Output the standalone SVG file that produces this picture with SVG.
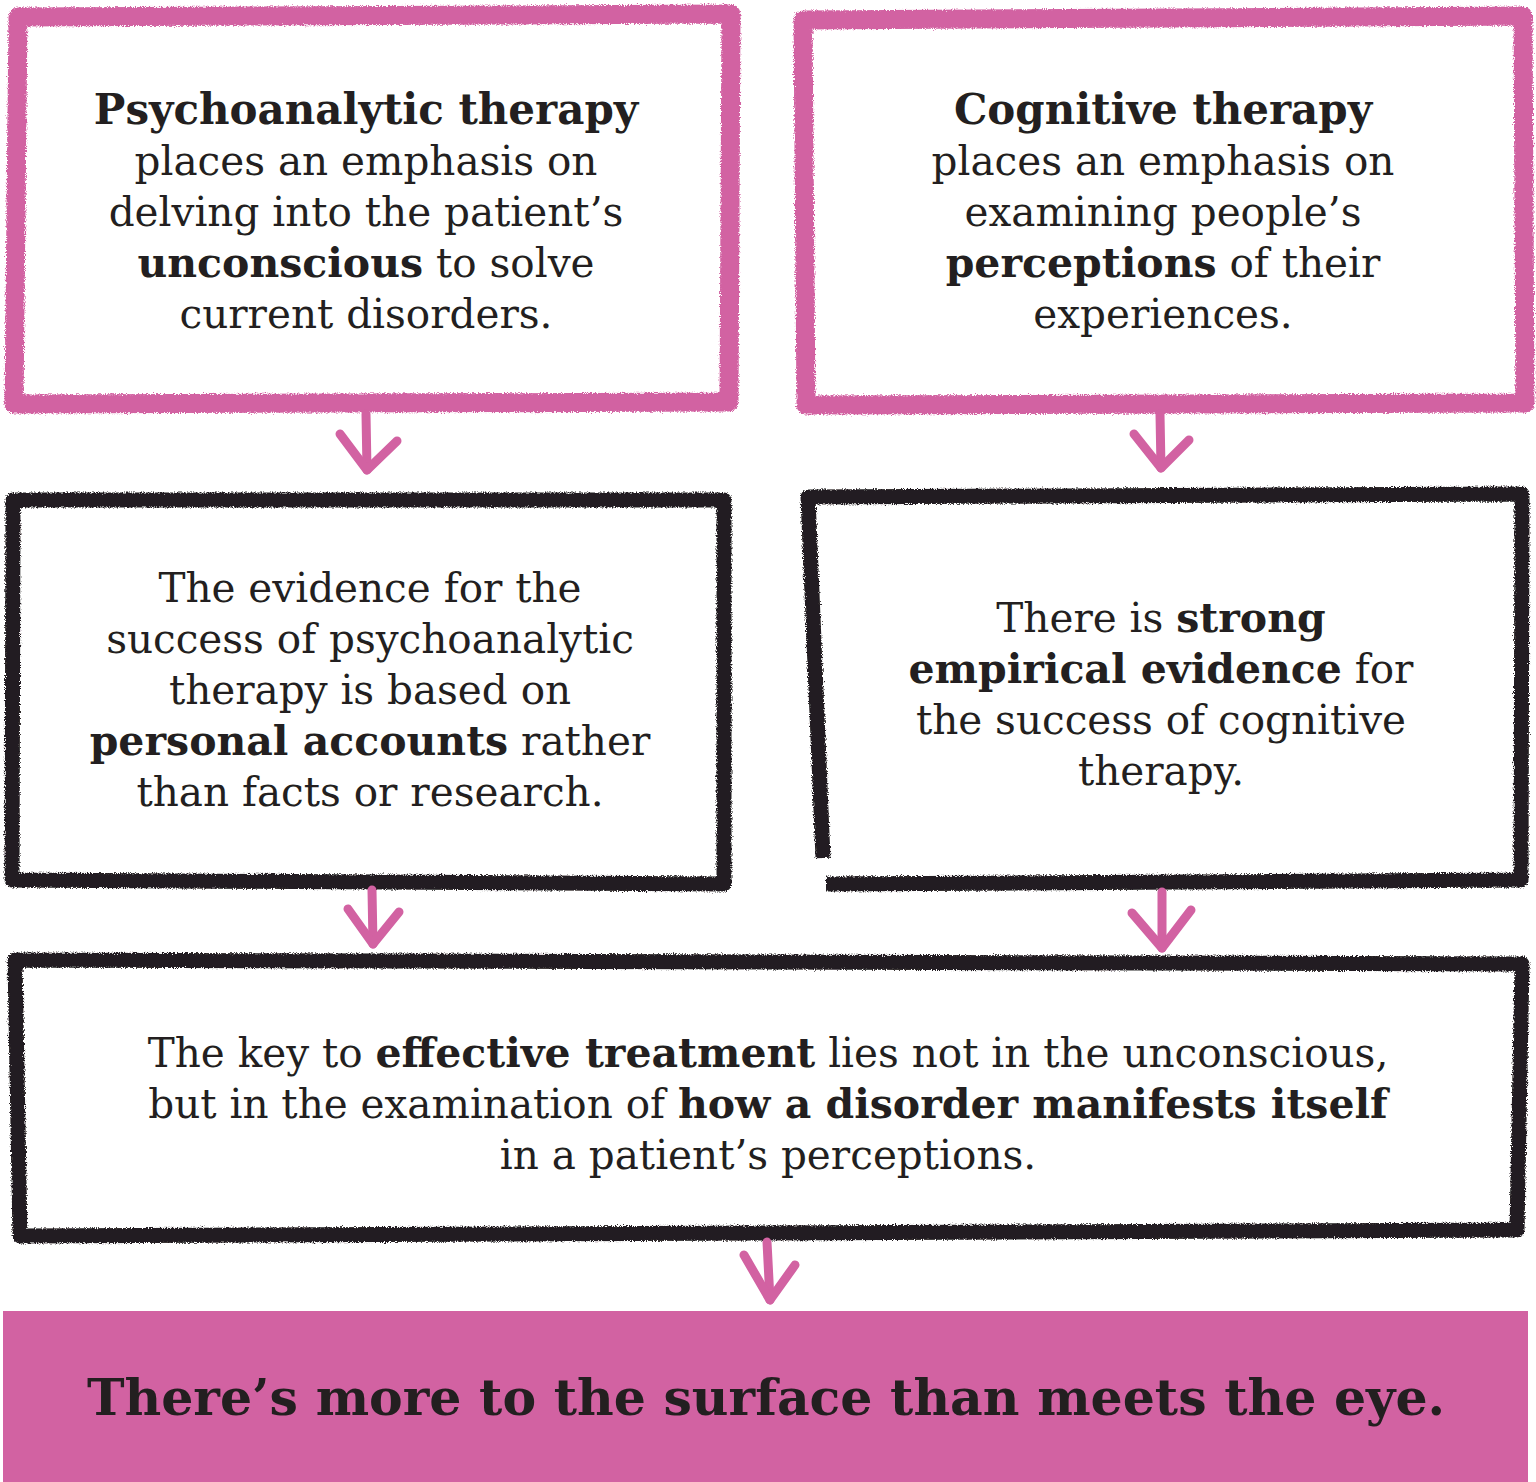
<svg xmlns="http://www.w3.org/2000/svg" width="1536" height="1482" viewBox="0 0 1536 1482">
<style>
.pk{fill:none;stroke:#d262a2;stroke-width:19;stroke-linejoin:round}
.bk{fill:none;stroke:#231f20;stroke-width:15;stroke-linejoin:round}
.ar{fill:none;stroke:#d262a2;stroke-width:9;stroke-linecap:round;stroke-linejoin:round}
text{font-family:"DejaVu Serif","Liberation Serif",serif;fill:#231f20;font-size:40.5px;text-anchor:middle;font-weight:normal}
.b{font-weight:bold;font-size:41px}
.h{font-weight:bold;font-size:42px}
.t{font-size:50.5px;font-weight:bold}
</style>
<defs>
<filter id="rough" x="-5%" y="-5%" width="110%" height="110%">
<feTurbulence type="fractalNoise" baseFrequency="0.9" numOctaves="2" seed="3" result="n"/>
<feDisplacementMap in="SourceGraphic" in2="n" scale="5" xChannelSelector="R" yChannelSelector="G"/>
</filter>
</defs>
<rect width="1536" height="1482" fill="#ffffff"/>
<g id="node-psycho">
<path class="pk" filter="url(#rough)" d="M18 17 L731 14 L729 402 L14 404 Z"/>
<text x="366" y="124"><tspan class="h">Psychoanalytic therapy</tspan></text>
<text x="366" y="175">places an emphasis on</text>
<text x="366" y="226">delving into the patient’s</text>
<text x="366" y="277"><tspan class="b">unconscious</tspan> to solve</text>
<text x="366" y="328">current disorders.</text>
</g>
<g id="node-cognitive">
<path class="pk" filter="url(#rough)" d="M803 20 L1523 16 L1525 403 L806 405 Z"/>
<text x="1163" y="124"><tspan class="h">Cognitive therapy</tspan></text>
<text x="1163" y="175">places an emphasis on</text>
<text x="1163" y="226">examining people’s</text>
<text x="1163" y="277"><tspan class="b">perceptions</tspan> of their</text>
<text x="1163" y="328">experiences.</text>
</g>
<g id="node-evidence-psycho">
<path class="bk" filter="url(#rough)" d="M13 500 L724 500 L724 884 L12 880 Z"/>
<text x="370" y="602">The evidence for the</text>
<text x="370" y="653">success of psychoanalytic</text>
<text x="370" y="704">therapy is based on</text>
<text x="370" y="755"><tspan class="b">personal accounts</tspan> rather</text>
<text x="370" y="806">than facts or research.</text>
</g>
<g id="node-evidence-cognitive">
<path class="bk" filter="url(#rough)" d="M823 858 L808 497 L1522 494 L1521 880 L826 884"/>
<text x="1161" y="632">There is <tspan class="b">strong</tspan></text>
<text x="1161" y="683"><tspan class="b">empirical evidence</tspan> for</text>
<text x="1161" y="734">the success of cognitive</text>
<text x="1161" y="785">therapy.</text>
</g>
<g id="node-key">
<path class="bk" filter="url(#rough)" d="M15 960 L1522 964 L1517 1230 L20 1236 Z"/>
<text x="768" y="1067">The key to <tspan class="b">effective treatment</tspan> lies not in the unconscious,</text>
<text x="768" y="1118">but in the examination of <tspan class="b">how a disorder manifests itself</tspan></text>
<text x="768" y="1169">in a patient’s perceptions.</text>
</g>
<g id="node-conclusion">
<rect x="3" y="1311" width="1525" height="171" fill="#d262a2"/>
<text class="t" x="766" y="1415">There’s more to the surface than meets the eye.</text>
</g>
<g id="connectors">
<polyline class="ar" points="366,414 367,470"/>
<polyline class="ar" points="340,434 367,470 397,441"/>
<polyline class="ar" points="1160,414 1161,468"/>
<polyline class="ar" points="1134,434 1161,468 1189,440"/>
<polyline class="ar" points="372,890 373,944"/>
<polyline class="ar" points="348,909 373,944 399,912"/>
<polyline class="ar" points="1162,892 1162,948"/>
<polyline class="ar" points="1132,913 1162,948 1191,910"/>
<polyline class="ar" points="767,1242 770,1300"/>
<polyline class="ar" points="744,1255 770,1300 795,1265"/>
</g>
</svg>
